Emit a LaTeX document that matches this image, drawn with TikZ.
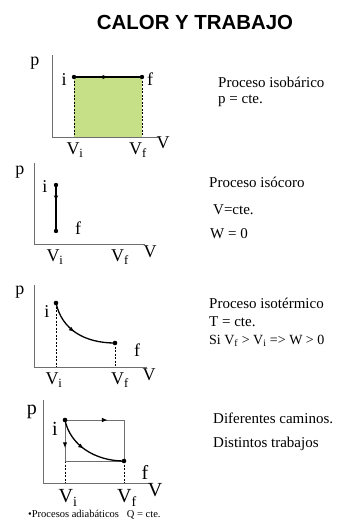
\documentclass[tikz,border=0pt]{standalone}
\usepackage{fontspec}
\setmainfont{Liberation Serif}
\newfontfamily\titlefont{Liberation Sans}
\usetikzlibrary{arrows.meta,decorations.markings}
\definecolor{areagreen}{RGB}{197,224,135}
\definecolor{axisgray}{RGB}{110,110,110}
\tikzset{
  axisline/.style={draw=axisgray,line width=0.9pt},
  procline/.style={draw=black,line width=1.6pt},
  pathline/.style={draw=axisgray,line width=0.9pt},
  dropline/.style={draw=black,line width=0.6pt,dash pattern=on 2pt off 1.5pt},
  statedot/.style={fill=black},
  lbl/.style={font=\fontsize{18}{20}\selectfont,inner sep=0pt},
  biglbl/.style={font=\fontsize{20}{22}\selectfont,inner sep=0pt},
  rtext/.style={font=\fontsize{15}{18}\selectfont,anchor=west,inner sep=0pt},
  midarrow/.style={postaction={decorate},decoration={markings,
    mark=at position #1 with {\arrow[black]{Latex[length=5.5pt,width=4.5pt]}}}},
}
\begin{document}
\begin{tikzpicture}[x=1pt,y=-1pt]
\useasboundingbox (0,0) rectangle (338,531);
\node[font=\titlefont\bfseries\fontsize{20.4}{24}\selectfont,inner sep=0pt] (title) at (195,22) {CALOR Y TRABAJO};

% ---------- panel 1 : isobaric
\coordinate (o1) at (52,137);
\coordinate (py1) at (52,55);
\coordinate (px1) at (158,137);
\coordinate (i1) at (74,77);
\coordinate (f1) at (142,77);
\coordinate (vi1) at (74,137);
\coordinate (vf1) at (142,137);
\fill[areagreen] (i1) rectangle (vf1);
\draw[dropline] (i1) -- (vi1);
\draw[dropline] (f1) -- (vf1);
\draw[axisline] (py1) -- (o1) -- (px1);
\draw[procline,midarrow=0.5] (i1) -- (f1);
\fill[statedot] (i1) circle (2.2);
\fill[statedot] (f1) circle (2.2);
\node[lbl] (p1) at (35,63) {p};
\node[lbl] (il1) at (64,80) {i};
\node[lbl] (fl1) at (150,79) {f};
\node[lbl] (Vi1) at (75,150) {V\textsubscript{i}};
\node[lbl] (Vf1) at (138,150) {V\textsubscript{f}};
\node[lbl] (V1) at (163,143) {V};
\node[rtext] (t1a) at (218,82) {Proceso isobárico};
\node[rtext] (t1b) at (218,101) {p = cte.};

% ---------- panel 2 : isochoric
\coordinate (o2) at (34,244);
\coordinate (py2) at (34,163);
\coordinate (px2) at (145,244);
\coordinate (i2) at (56,185);
\coordinate (f2) at (56,231);
\draw[axisline] (py2) -- (o2) -- (px2);
\draw[procline,midarrow=0.35] (i2) -- (f2);
\fill[statedot] (i2) circle (2.2);
\fill[statedot] (f2) circle (2.2);
\node[lbl] (p2) at (20,172) {p};
\node[lbl] (il2) at (45,187) {i};
\node[lbl] (fl2) at (78,228) {f};
\node[lbl] (Vi2) at (55,257) {V\textsubscript{i}};
\node[lbl] (Vf2) at (120,257) {V\textsubscript{f}};
\node[lbl] (V2) at (150,252) {V};
\node[rtext] (t2a) at (209,182) {Proceso isócoro};
\node[rtext] (t2b) at (213,210) {V=cte.};
\node[rtext] (t2c) at (210,234) {W = 0};

% ---------- panel 3 : isothermal
\coordinate (o3) at (34,367);
\coordinate (py3) at (34,285);
\coordinate (px3) at (147,367);
\coordinate (i3) at (56,303);
\coordinate (f3) at (115,343);
\coordinate (vi3) at (56,367);
\coordinate (vf3) at (115,367);
\draw[dropline] (i3) -- (vi3);
\draw[dropline] (f3) -- (vf3);
\draw[axisline] (py3) -- (o3) -- (px3);
\draw[procline,line width=1.3pt,midarrow=0.45] (i3) .. controls (62,330) and (85,343) .. (f3);
\fill[statedot] (i3) circle (2.3);
\fill[statedot] (f3) circle (2.3);
\node[lbl] (p3) at (20,292) {p};
\node[lbl] (il3) at (47,312) {i};
\node[lbl] (fl3) at (137,350) {f};
\node[lbl] (Vi3) at (54,380) {V\textsubscript{i}};
\node[lbl] (Vf3) at (120,380) {V\textsubscript{f}};
\node[lbl] (V3) at (149,375) {V};
\node[rtext] (t3a) at (209,303) {Proceso isotérmico};
\node[rtext] (t3b) at (209,322) {T = cte.};
\node[rtext,font=\fontsize{14}{17}\selectfont] (t3c) at (209,341) {Si V\textsubscript{f} > V\textsubscript{i} => W > 0};

% ---------- panel 4 : different paths
\coordinate (o4) at (43,483);
\coordinate (py4) at (43,400);
\coordinate (px4) at (150,483);
\coordinate (i4) at (65,420);
\coordinate (f4) at (124,461);
\coordinate (c4a) at (124,420);
\coordinate (c4b) at (65,461);
\coordinate (vi4) at (65,483);
\coordinate (vf4) at (124,483);
\draw[dropline] (c4b) -- (vi4);
\draw[dropline] (f4) -- (vf4);
\draw[axisline] (py4) -- (o4) -- (px4);
\draw[pathline,midarrow=0.72] (i4) -- (c4a);
\draw[pathline] (c4a) -- (f4);
\draw[pathline,midarrow=0.68] (i4) -- (c4b);
\draw[pathline] (c4b) -- (f4);
\draw[procline,line width=1.3pt,midarrow=0.45] (i4) .. controls (70,445) and (95,461) .. (f4);
\fill[statedot] (i4) circle (2.3);
\fill[statedot] (f4) circle (2.3);
\node[biglbl] (p4) at (32,412) {p};
\node[biglbl] (il4) at (55,429) {i};
\node[biglbl] (fl4) at (145,472) {f};
\node[biglbl] (Vi4) at (68,498) {V\textsubscript{i}};
\node[biglbl] (Vf4) at (127,498) {V\textsubscript{f}};
\node[biglbl] (V4) at (155,490) {V};
\node[rtext] (t4a) at (213,418) {Diferentes caminos.};
\node[rtext] (t4b) at (213,444) {Distintos trabajos};

\node[font=\fontsize{10.5}{12}\selectfont,anchor=west,inner sep=0pt] (adia) at (28,515) {•Procesos adiabáticos~~ Q = cte.};
\end{tikzpicture}
\end{document}
